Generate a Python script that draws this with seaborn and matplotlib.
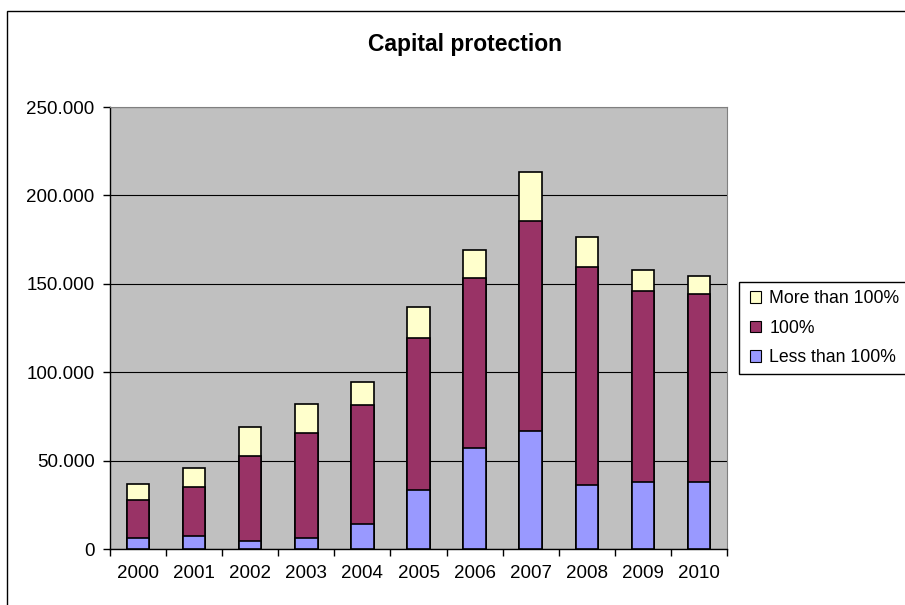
"""Capital protection: stacked bars by protection level, 2000-2010."""
import matplotlib
matplotlib.use("Agg")
import matplotlib.pyplot as plt
import matplotlib.ticker as mticker
from matplotlib.patches import Patch, Rectangle
import numpy as np
import pandas as pd
import seaborn as sns

YEARS = ["2000", "2001", "2002", "2003", "2004", "2005",
         "2006", "2007", "2008", "2009", "2010"]
LESS_THAN_100 = [6400, 7300, 4700, 6400, 14200, 33500, 57300, 66500, 36200, 37900, 37900]
EQUAL_100 = [21200, 27700, 48100, 59300, 67400, 86000, 96100, 119200, 123200, 108100, 106400]
MORE_THAN_100 = [9300, 11000, 16200, 16100, 12700, 17200, 15500, 27700, 16900, 11700, 10100]

SERIES = ["Less than 100%", "100%", "More than 100%"]
COLORS = {"Less than 100%": "#9999FF", "100%": "#993366", "More than 100%": "#FFFFCC"}

sns.set_theme(style="white")
plt.rcParams["font.family"] = ["Liberation Sans", "DejaVu Sans"]
plt.rcParams.update({"text.color": "black", "xtick.color": "black", "ytick.color": "black",
                     "axes.labelcolor": "black"})

df = pd.DataFrame({"year": YEARS, "Less than 100%": LESS_THAN_100,
                   "100%": EQUAL_100, "More than 100%": MORE_THAN_100})
df["cum_less"] = df["Less than 100%"]
df["cum_mid"] = df["cum_less"] + df["100%"]
df["cum_top"] = df["cum_mid"] + df["More than 100%"]

W, H = 905, 605
fig = plt.figure(figsize=(W / 100, H / 100), dpi=100)
ax = fig.add_axes([110 / W, 1 - 549 / H, 617 / W, 442 / H])
ax.set_facecolor("#C0C0C0")

# draw tallest first, then overlay the lower segments
for col, name in [("cum_top", "More than 100%"), ("cum_mid", "100%"), ("cum_less", "Less than 100%")]:
    sns.barplot(data=df, x="year", y=col, color=COLORS[name], saturation=1,
                width=0.4, edgecolor="black", linewidth=1.2, ax=ax, zorder=3)

ax.set_ylim(0, 250000)
ax.set_xlim(-0.5, len(YEARS) - 0.5)
ax.yaxis.set_major_locator(mticker.MultipleLocator(50000))
ax.yaxis.set_major_formatter(mticker.FuncFormatter(lambda v, p: f"{int(v):,}".replace(",", ".")))
ax.grid(axis="y", color="#000000", linewidth=0.8, zorder=1)
ax.set_axisbelow(True)
ax.set_xlabel("")
ax.set_ylabel("")

for side in ["top", "right"]:
    ax.spines[side].set_color("#808080")
    ax.spines[side].set_linewidth(0.8)
for side in ["left", "bottom"]:
    ax.spines[side].set_color("black")
    ax.spines[side].set_linewidth(1.0)

ax.tick_params(axis="y", which="major", direction="out", length=5, width=1,
               color="black", labelcolor="black", labelsize=13.5, left=True, pad=6)
ax.tick_params(axis="x", which="major", length=0, labelcolor="black", labelsize=13.5, pad=11.5)
ax.set_xticks(np.arange(-0.5, len(YEARS), 1), minor=True)
ax.tick_params(axis="x", which="minor", direction="out", length=5, width=1,
               color="black", bottom=True)

fig.text(465 / W, 1 - 44 / H, "Capital protection", ha="center", va="center",
         fontsize=16.5, fontweight="bold", color="black")

# legend frame runs off the right edge, as in the original
fig.patches.append(Rectangle((739 / W, 1 - 374 / H), 200 / W, 92 / H, transform=fig.transFigure,
                             facecolor="white", edgecolor="black", linewidth=1.0, zorder=1))
handles = [Patch(facecolor=COLORS[s], edgecolor="black", linewidth=0.8) for s in reversed(SERIES)]
leg = fig.legend(handles, list(reversed(SERIES)), loc="upper left",
                 bbox_to_anchor=(750 / W, 1 - 290 / H), frameon=False,
                 fontsize=12.7, handlelength=0.65, handleheight=0.65, handletextpad=0.45,
                 labelspacing=0.72, borderpad=0, borderaxespad=0, labelcolor="black")
leg.set_zorder(2)

# outer chart border (right and bottom sides are outside the image)
fig.patches.append(Rectangle((7 / W, -10 / H), 910 / W, 604 / H, transform=fig.transFigure,
                             fill=False, edgecolor="black", linewidth=1.0))

fig.savefig("out.png", dpi=100)
